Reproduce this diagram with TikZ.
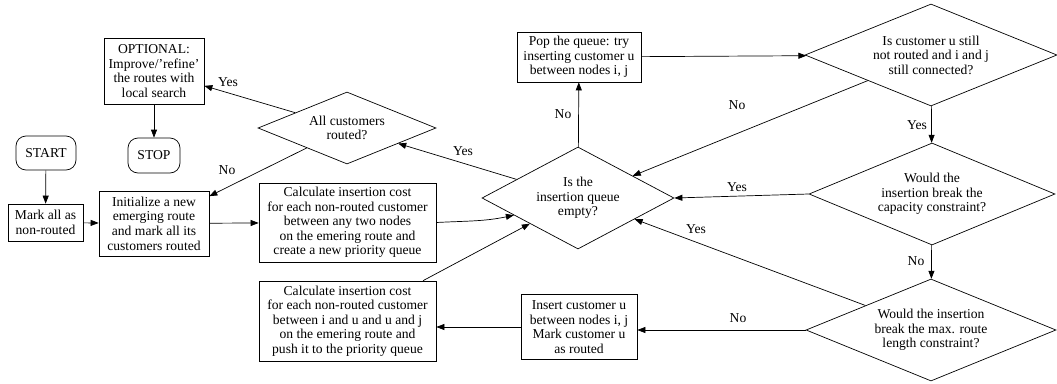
\documentclass[tikz,border=0pt]{standalone}
\usepackage{fontspec}
\setmainfont{Liberation Serif}
\usetikzlibrary{shapes.geometric,arrows.meta}

\begin{document}
\begin{tikzpicture}[x=1pt,y=-1pt,
  every node/.style={font=\fontsize{13.6}{14.6}\selectfont, inner sep=0pt},
  box/.style={draw, line width=0.7pt, align=center, minimum width=#1},
  term/.style={draw, line width=0.7pt, rounded corners=10pt, align=center},
  decision/.style={draw, line width=0.7pt, diamond, align=center, inner sep=0pt, aspect=#1},
  flow/.style={line width=0.7pt, -{Triangle[length=8pt,width=6pt]}},
  lbl/.style={font=\fontsize{13.6}{14.6}\selectfont}
]
\useasboundingbox (0,0) rectangle (1057,383);

% terminals
\node[term, minimum width=60pt, minimum height=34pt] (start) at (46,153) {START};
\node[term, minimum width=52pt, minimum height=35pt] (stop) at (154,155.5) {STOP};

% process boxes
\node[box=100pt, minimum height=66pt] (optional) at (154,71)
  {OPTIONAL:\\Improve/’refine’\\the routes with\\local search};
\node[box=75pt, minimum height=37pt] (mark) at (45.5,222.5)
  {Mark all as\\non-routed};
\node[box=110pt, minimum height=65pt] (init) at (154,223.5)
  {Initialize a new\\emerging route\\and mark all its\\customers routed};
\node[box=177pt, minimum height=79pt] (calcany) at (347.5,222.5)
  {Calculate insertion cost\\for each non-routed customer\\between any two nodes\\on the emering route and\\create a new priority queue};
\node[box=177pt, minimum height=80pt] (calcij) at (347.5,321)
  {Calculate insertion cost\\for each non-routed customer\\between i and u and u and j\\on the emering route and\\push it to the priority queue};
\node[box=124pt, minimum height=50pt] (pop) at (579,57)
  {Pop the queue: try\\inserting customer u\\between nodes i, j};
\node[box=116pt, minimum height=65pt] (insert) at (579,327)
  {Insert customer u\\between nodes i, j\\Mark customer u\\as routed};

% decisions
\node[decision=2.47, minimum width=178pt, minimum height=72pt] (allrouted) at (347,128)
  {All customers\\routed?};
\node[decision=1.88, minimum width=192pt, minimum height=102pt] (queue) at (578,198)
  {Is the\\insertion queue\\empty?};
\node[decision=2.47, minimum width=252pt, minimum height=102pt] (still) at (931,55)
  {Is customer u still\\not routed and i and j\\still connected?};
\node[decision=2.41, minimum width=246pt, minimum height=102pt] (capacity) at (932,194)
  {Would the\\insertion break the\\capacity constraint?};
\node[decision=2.45, minimum width=250pt, minimum height=102pt] (maxlen) at (931,330)
  {Would the insertion\\break the max. route\\length constraint?};

% connectors
\draw[flow] (start) -- (mark);
\draw[flow] (mark) -- (init);
\draw[flow] (init) -- (calcany);
\draw[flow] (calcany.east) to[out=3,in=192] (queue.195);
\draw[flow] (calcij) -- (queue);
\draw[flow] (queue) -- (allrouted);
\draw[flow] (allrouted) -- (optional);
\draw[flow] (allrouted) -- (init);
\draw[flow] (optional) -- (stop);
\draw[flow] (queue) -- (pop);
\draw[flow] (pop) -- (still);
\draw[flow] (still) -- (queue);
\draw[flow] (still) -- (capacity);
\draw[flow] (capacity.west) -- (queue.east);
\draw[flow] (capacity) -- (maxlen);
\draw[flow] (maxlen) -- (queue);
\draw[flow] (maxlen.west) -- (maxlen.west -| insert.east);
\draw[flow] (insert.west) -- (insert.west -| calcij.east);

% branch labels
\node[lbl] (l1) at (228,82) {Yes};
\node[lbl] (l2) at (227,170) {No};
\node[lbl] (l3) at (463,151) {Yes};
\node[lbl] (l4) at (563,114) {No};
\node[lbl] (l5) at (737,105) {No};
\node[lbl] (l6) at (917,125) {Yes};
\node[lbl] (l7) at (737,187) {Yes};
\node[lbl] (l8) at (916,261) {No};
\node[lbl] (l9) at (696,229) {Yes};
\node[lbl] (l10) at (738,318) {No};
\end{tikzpicture}
\end{document}
